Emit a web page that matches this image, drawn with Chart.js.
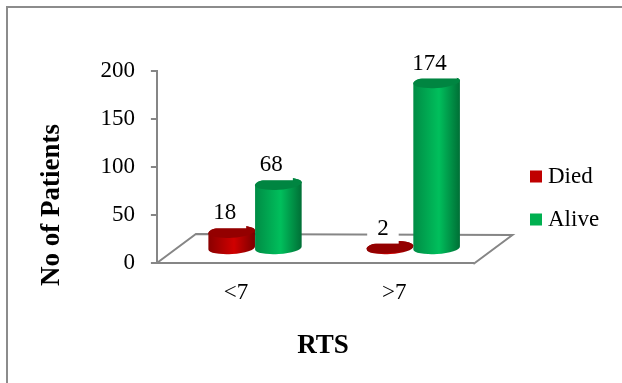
<!DOCTYPE html>
<html>
<head>
<meta charset="utf-8">
<script src="https://cdn.jsdelivr.net/npm/chart.js@4"></script>
<style>
  html, body { margin: 0; padding: 0; background: #fff; }
  #wrap { width: 622px; height: 383px; }
</style>
</head>
<body>
<div id="wrap"><canvas id="myChart" width="622" height="383"></canvas></div>
<script>
var categories = ['<7', '>7'];
var died = [18, 2];
var alive = [68, 174];
var yTicks = [0, 50, 100, 150, 200];

var FONT = '"Liberation Serif", serif';
var AXIS_GRAY = '#868686';
// how far the floor runs back from the front edge of the plot
var DEPTH_X = 39, DEPTH_Y = 29;
// bars stand in the middle of the floor
var BAR_DX = 19, BAR_DY = -14;

var shades = [
  { left: '#8a0000', mid: '#d00000', right: '#7a0000', cap: '#940000' },
  { left: '#008c45', mid: '#00bf5c', right: '#006f36', cap: '#008541' }
];

// frame along the top and left of the figure, and the floor under the bars
var backdrop = {
  id: 'backdrop',
  beforeDraw: function (chart) {
    var ctx = chart.ctx, a = chart.chartArea;
    ctx.save();
    ctx.strokeStyle = '#8c8c8c';
    ctx.lineWidth = 2;
    ctx.beginPath();
    ctx.moveTo(7, chart.height);
    ctx.lineTo(7, 7);
    ctx.lineTo(chart.width, 7);
    ctx.stroke();
    ctx.strokeStyle = AXIS_GRAY;
    ctx.beginPath();
    ctx.moveTo(a.left, a.bottom);
    ctx.lineTo(a.left + DEPTH_X, a.bottom - DEPTH_Y);
    ctx.lineTo(a.right + DEPTH_X, a.bottom - DEPTH_Y + 1);
    ctx.lineTo(a.right, a.bottom + 1);
    ctx.stroke();
    ctx.restore();
  }
};

function drawCylinder(ctx, el, tone) {
  var cx = el.x + BAR_DX, rx = el.width / 2, ry = 6, tilt = -0.065;
  var top = el.y + BAR_DY, bottom = el.base + BAR_DY;
  var g = ctx.createLinearGradient(cx - rx, 0, cx + rx, 0);
  g.addColorStop(0, tone.left);
  g.addColorStop(0.55, tone.mid);
  g.addColorStop(1, tone.right);
  ctx.fillStyle = g;
  ctx.beginPath();
  ctx.ellipse(cx, bottom, rx, ry, tilt, 0, Math.PI);
  ctx.ellipse(cx, top, rx, ry, tilt, Math.PI, 2 * Math.PI);
  ctx.closePath();
  ctx.fill();
  ctx.fillStyle = tone.cap;
  ctx.beginPath();
  ctx.ellipse(cx, top, rx, ry, tilt, 0, 2 * Math.PI);
  ctx.fill();
}

// swaps the flat bars for cylinders, sized from each bar element
var cylinders = {
  id: 'cylinders',
  beforeDatasetDraw: function (chart, args) {
    var ctx = chart.ctx;
    ctx.save();
    args.meta.data.forEach(function (el) {
      drawCylinder(ctx, el.getProps(['x', 'y', 'base', 'width'], true), shades[args.index]);
    });
    ctx.restore();
    return false;
  }
};

// value labels sit on white boxes that cut into the caps
var valueLabels = {
  id: 'valueLabels',
  afterDatasetsDraw: function (chart) {
    var ctx = chart.ctx;
    ctx.save();
    ctx.font = '23px ' + FONT;
    ctx.textAlign = 'center';
    ctx.textBaseline = 'middle';
    chart.data.datasets.forEach(function (ds, i) {
      chart.getDatasetMeta(i).data.forEach(function (el, j) {
        var p = el.getProps(['x', 'y', 'width'], true);
        var text = String(ds.data[j]);
        var x = p.x + BAR_DX - 7;
        var y = p.y + BAR_DY - 18.5;
        var w = ctx.measureText(text).width + 20;
        ctx.fillStyle = '#fff';
        ctx.fillRect(x - w / 2, y - 14, w, 29);
        ctx.fillStyle = '#000';
        ctx.fillText(text, x, y);
      });
    });
    ctx.restore();
  }
};

// the axis titles sit off-centre from their axes, which scale titles can't do
var axisTitles = {
  id: 'axisTitles',
  afterDraw: function (chart) {
    var ctx = chart.ctx;
    ctx.save();
    ctx.font = 'bold 27px ' + FONT;
    ctx.fillStyle = '#000';
    ctx.textAlign = 'center';
    ctx.textBaseline = 'middle';
    ctx.fillText('RTS', 323, 346);
    ctx.translate(52, 205);
    ctx.rotate(-Math.PI / 2);
    ctx.fillText('No of Patients', 0, 0);
    ctx.restore();
  }
};

// legend keeps its own size but stands clear of the floor
var legendSpot = {
  id: 'legendSpot',
  afterLayout: function (chart) {
    var l = chart.legend;
    var w = l.right - l.left, h = l.bottom - l.top;
    l.left = 515.5; l.right = l.left + w;
    l.top = 198 - h / 2; l.bottom = l.top + h;
  }
};

var ctx = document.getElementById('myChart').getContext('2d');
var chart = new Chart(ctx, {
  type: 'bar',
  data: {
    labels: categories,
    datasets: [
      // the wide border only fattens the small legend key; bars are drawn as cylinders
      { label: 'Died', data: died, backgroundColor: '#c00000', borderColor: '#c00000', borderWidth: 11 },
      { label: 'Alive', data: alive, backgroundColor: '#00b050', borderColor: '#00b050', borderWidth: 11 }
    ]
  },
  plugins: [backdrop, cylinders, valueLabels, axisTitles, legendSpot],
  options: {
    responsive: false,
    animation: false,
    layout: { padding: { left: 84.4, top: 71, right: 55, bottom: 60.4 } },
    categoryPercentage: 0.59,
    barPercentage: 1,
    plugins: {
      tooltip: { enabled: false },
      legend: {
        position: 'right',
        labels: {
          boxWidth: 1, boxHeight: 1, padding: 20,
          color: '#000',
          font: { family: FONT, size: 23 }
        }
      }
    },
    scales: {
      x: {
        grid: { display: false, drawTicks: false },
        border: { color: AXIS_GRAY, width: 2 },
        ticks: { color: '#000', padding: 16, font: { family: FONT, size: 23 } }
      },
      y: {
        min: 0,
        max: 200,
        grid: { drawOnChartArea: false, color: AXIS_GRAY, tickLength: 6, lineWidth: 2 },
        border: { color: AXIS_GRAY, width: 2 },
        afterBuildTicks: function (scale) {
          scale.ticks = yTicks.map(function (v) { return { value: v }; });
        },
        ticks: { color: '#000', padding: 16, font: { family: FONT, size: 23 } }
      }
    }
  }
});
</script>
</body>
</html>
